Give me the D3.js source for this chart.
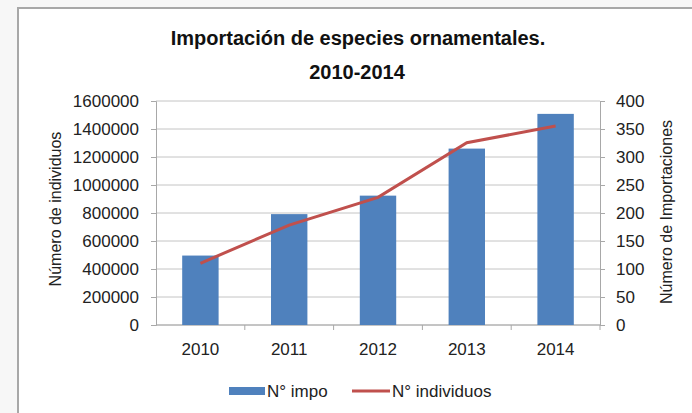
<!DOCTYPE html>
<html>
<head>
<meta charset="utf-8">
<script src="https://cdn.jsdelivr.net/npm/d3@7"></script>
<style>
  body { margin: 0; background: #f7f7f7; }
  svg { display: block; font-family: "Liberation Sans", Arial, sans-serif; }
</style>
</head>
<body>
<script>
// chart data
var years = ["2010", "2011", "2012", "2013", "2014"];
var importaciones = [124, 198, 231, 315, 377];          // N° impo (right axis)
var individuos = [441000, 714000, 912000, 1302000, 1421000]; // N° individuos (left axis)
var leftTicks = [0, 200000, 400000, 600000, 800000, 1000000, 1200000, 1400000, 1600000];
var rightTicks = [0, 50, 100, 150, 200, 250, 300, 350, 400];

var width = 692, height = 413;
var plot = { left: 156, right: 600, top: 101, bottom: 325 };

var svg = d3.select("body").append("svg")
    .attr("width", width)
    .attr("height", height);

// chart frame
svg.append("rect")
    .attr("x", 18).attr("y", 8)
    .attr("width", width - 17).attr("height", height)
    .attr("fill", "#fff");
svg.append("line").attr("x1", 18).attr("x2", 18).attr("y1", 8).attr("y2", height)
    .attr("stroke", "#a8a8a8").attr("stroke-width", 2);
svg.append("line").attr("x1", 17).attr("x2", width).attr("y1", 8).attr("y2", 8)
    .attr("stroke", "#a8a8a8").attr("stroke-width", 2);

// title
var title = svg.append("text")
    .attr("text-anchor", "middle")
    .attr("font-weight", "bold")
    .attr("font-size", 20)
    .attr("fill", "#111");
title.append("tspan").attr("x", 358).attr("y", 45).text("Importación de especies ornamentales.");
title.append("tspan").attr("x", 357).attr("y", 79).text("2010-2014");

// scales
var x = d3.scaleBand().domain(years).range([plot.left, plot.right]).paddingInner(0.59).paddingOuter(0.295);
var xb = d3.scaleBand().domain(years).range([plot.left, plot.right]);
var yL = d3.scaleLinear().domain([0, 1600000]).range([plot.bottom, plot.top]);
var yR = d3.scaleLinear().domain([0, 400]).range([plot.bottom, plot.top]);

// gridlines
svg.append("g").selectAll("line")
    .data(leftTicks)
    .enter().append("line")
    .attr("x1", plot.left).attr("x2", plot.right)
    .attr("y1", d => yL(d)).attr("y2", d => yL(d))
    .attr("stroke", "#c4c4c4").attr("stroke-width", 1);

// left axis
var leftAxis = svg.append("g")
    .attr("transform", "translate(" + plot.left + ",0)")
    .call(d3.axisLeft(yL).tickValues(leftTicks).tickFormat(d3.format("d")).tickSize(5).tickPadding(12));

// right axis
var rightAxis = svg.append("g")
    .attr("transform", "translate(" + plot.right + ",0)")
    .call(d3.axisRight(yR).tickValues(rightTicks).tickSize(5).tickPadding(11));

// bottom axis
var bottomAxis = svg.append("g")
    .attr("transform", "translate(0," + plot.bottom + ")")
    .call(d3.axisBottom(xb).tickSize(0).tickPadding(18));
bottomAxis.append("g").selectAll("line")
    .data(years.slice(1).concat(["end"]))
    .enter().append("line")
    .attr("x1", (d, i) => plot.left + xb.bandwidth() * (i + 1))
    .attr("x2", (d, i) => plot.left + xb.bandwidth() * (i + 1))
    .attr("y1", 0).attr("y2", 5)
    .attr("stroke", "#a8a8a8");

[leftAxis, rightAxis, bottomAxis].forEach(function(a) {
    a.select(".domain").attr("stroke", "#a8a8a8");
    a.selectAll(".tick line").attr("stroke", "#a8a8a8");
    a.selectAll("text")
        .attr("font-family", "'Liberation Sans', Arial, sans-serif")
        .attr("font-size", 17)
        .attr("fill", "#222");
});
bottomAxis.select(".domain").attr("d", "M" + plot.left + ",0H" + plot.right);

// bars (N° impo)
svg.append("g").selectAll("rect")
    .data(years)
    .enter().append("rect")
    .attr("x", d => x(d))
    .attr("width", x.bandwidth())
    .attr("y", (d, i) => yR(importaciones[i]))
    .attr("height", (d, i) => plot.bottom - yR(importaciones[i]))
    .attr("fill", "#4f81bd");

// line (N° individuos)
var line = d3.line()
    .x((d, i) => xb(years[i]) + xb.bandwidth() / 2)
    .y(d => yL(d));
svg.append("path")
    .datum(individuos)
    .attr("d", line)
    .attr("fill", "none")
    .attr("stroke", "#c0504d")
    .attr("stroke-width", 3);

// axis titles
svg.append("text")
    .attr("transform", "translate(61,209) rotate(-90)")
    .attr("text-anchor", "middle")
    .attr("font-size", 16).attr("fill", "#222")
    .text("Número de individuos");
svg.append("text")
    .attr("transform", "translate(672,212) rotate(-90)")
    .attr("text-anchor", "middle")
    .attr("font-size", 16).attr("fill", "#222")
    .text("Número de Importaciones");

// legend
var legend = svg.append("g");
legend.append("rect")
    .attr("x", 229).attr("y", 387).attr("width", 36).attr("height", 8)
    .attr("fill", "#4f81bd");
legend.append("text")
    .attr("x", 267).attr("y", 397)
    .attr("font-size", 17).attr("fill", "#222")
    .text("N° impo");
legend.append("line")
    .attr("x1", 352).attr("x2", 390).attr("y1", 391).attr("y2", 391)
    .attr("stroke", "#c0504d").attr("stroke-width", 3);
legend.append("text")
    .attr("x", 392).attr("y", 397)
    .attr("font-size", 17).attr("fill", "#222")
    .text("N° individuos");
</script>
</body>
</html>
